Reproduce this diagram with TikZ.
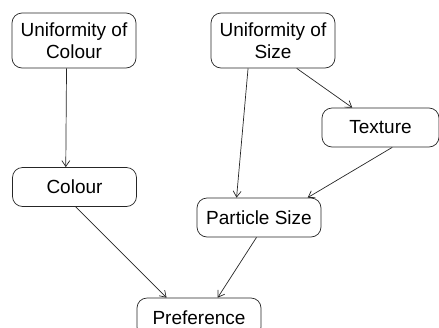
\documentclass[tikz,border=0pt]{standalone}
\usepackage{fontspec}
\setmainfont{Liberation Sans}
\usetikzlibrary{arrows.meta}
\usetikzlibrary{calc}
\tikzstyle{factor}=[draw, black!85, text=black, line width=0.7pt, rounded corners=10pt, minimum width=124pt, minimum height=39pt, inner sep=0pt, align=center, font=\fontsize{19}{22}\selectfont]
\tikzstyle{tallfactor}=[factor, minimum height=55pt]
\tikzstyle{link}=[-{Straight Barb[length=6pt,width=8pt]}, black!85, line width=0.7pt]

\begin{document}
\begin{tikzpicture}[x=1pt, y=1pt]
        \useasboundingbox (0, 0) rectangle (439, -327);
        \node[tallfactor]                    (UoC)  at (74, -40.5)   {Uniformity of\\Colour};
        \node[tallfactor]                    (UoS)  at (273, -40.5)  {Uniformity of\\Size};
        \node[factor, minimum width=117pt]   (Tex)  at (380.5, -127.5) {Texture};
        \node[factor]                        (Col)  at (74.5, -187)  {Colour};
        \node[factor]                        (PS)   at (259, -217.5) {Particle Size};
        \node[factor]                        (Pref) at (199, -317.5) {Preference};
        \draw[link] ($(UoC.south west)!0.44!(UoC.south east)$) -- ($(Col.north west)!0.43!(Col.north east)$);
        \draw[link] ($(UoS.south west)!0.30!(UoS.south east)$) -- ($(PS.north west)!0.32!(PS.north east)$);
        \draw[link] ($(UoS.south west)!0.69!(UoS.south east)$) -- ($(Tex.north west)!0.26!(Tex.north east)$);
        \draw[link] ($(Tex.south west)!0.60!(Tex.south east)$) -- ($(PS.north west)!0.89!(PS.north east)$);
        \draw[link] ($(Col.south west)!0.51!(Col.south east)$) -- ($(Pref.north west)!0.24!(Pref.north east)$);
        \draw[link] ($(PS.south west)!0.48!(PS.south east)$) -- ($(Pref.north west)!0.65!(Pref.north east)$);
    \end{tikzpicture}
\end{document}
